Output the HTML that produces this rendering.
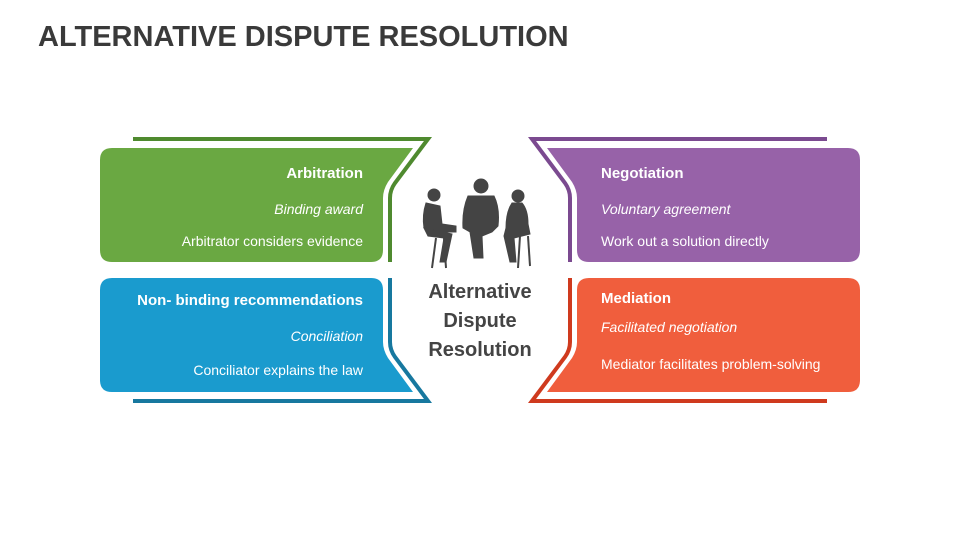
<!DOCTYPE html>
<html><head><style>
body{margin:0;width:960px;height:540px;background:#fff;overflow:hidden}
svg{display:block}
text{font-family:"Liberation Sans",sans-serif}
</style></head><body>
<svg width="960" height="540" viewBox="0 0 960 540">
<text x="38" y="46" font-size="29" font-weight="bold" fill="#3a3a3a">ALTERNATIVE DISPUTE RESOLUTION</text>
<defs>
<g id="sh">
<path stroke="none" d="M112 148 L413 148 L388 182 Q383 190 383 198 L383 250 Q383 262 371 262 L112 262 Q100 262 100 250 L100 160 Q100 148 112 148 Z"/>
<path d="M133 139 L428 139 L395 183 Q390 190 390 198 L390 262" fill="none" stroke-width="4"/>
</g>
</defs>
<use href="#sh" fill="#6aa842" stroke="#4f8a2f"/>
<use href="#sh" fill="#9762a8" stroke="#7b4a90" transform="translate(960,0) scale(-1,1)"/>
<use href="#sh" fill="#1a9bce" stroke="#17789f" transform="translate(0,540) scale(1,-1)"/>
<use href="#sh" fill="#f05e3d" stroke="#cf3a1e" transform="translate(960,540) scale(-1,-1)"/>
<g fill="#fff" font-size="14">
<g text-anchor="end">
<text x="363" y="178" font-weight="bold" font-size="15">Arbitration</text>
<text x="363" y="214" font-style="italic">Binding award</text>
<text x="363" y="246">Arbitrator considers evidence</text>
<text x="363" y="305" font-weight="bold" font-size="15">Non- binding recommendations</text>
<text x="363" y="341" font-style="italic">Conciliation</text>
<text x="363" y="375">Conciliator explains the law</text>
</g>
<text x="601" y="178" font-weight="bold" font-size="15">Negotiation</text>
<text x="601" y="214" font-style="italic">Voluntary agreement</text>
<text x="601" y="246">Work out a solution directly</text>
<text x="601" y="303" font-weight="bold" font-size="15">Mediation</text>
<text x="601" y="332" font-style="italic">Facilitated negotiation</text>
<text x="601" y="369">Mediator facilitates problem-solving</text>
</g>
<g text-anchor="middle" font-size="20" font-weight="bold" fill="#444">
<text x="480" y="298">Alternative</text>
<text x="480" y="327">Dispute</text>
<text x="480" y="356">Resolution</text>
</g>
<g fill="#444" stroke="#444">
<circle cx="434" cy="195" r="6"/>
<path d="M426 203 Q422 215 424 228 L440 232 L456 232 L456 226 L442 224 L440 206 Z"/>
<path d="M424 228 L452 234 L446 262 L440 262 L444 238 L428 236 Z"/>
<line x1="436" y1="238" x2="432" y2="268" stroke-width="2"/><line x1="444" y1="238" x2="446" y2="268" stroke-width="2"/>
<circle cx="481" cy="186" r="7"/>
<path d="M468 196 Q462 210 463 228 L470 232 L474 258 L483 258 L482 236 L492 232 L498 226 Q500 208 494 196 Z"/>
<circle cx="518" cy="196" r="6"/>
<path d="M512 203 Q506 212 506 228 L504 236 L510 262 L516 262 L514 238 L530 234 L528 224 Q528 210 522 203 Z"/>
<line x1="520" y1="236" x2="518" y2="268" stroke-width="2"/><line x1="528" y1="236" x2="530" y2="266" stroke-width="2"/>
</g>
</svg>
</body></html>
